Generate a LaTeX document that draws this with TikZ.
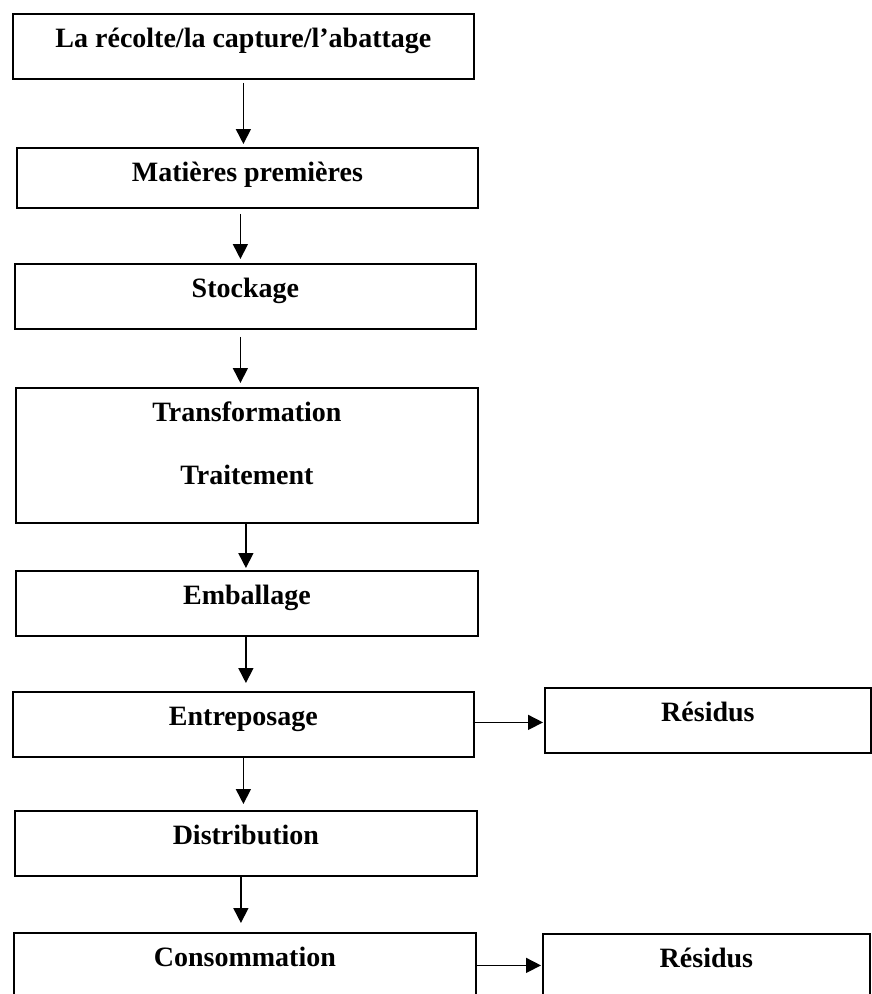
\documentclass[tikz,border=0pt]{standalone}
\usepackage{fontspec}
\setmainfont{Liberation Serif}
\usetikzlibrary{arrows.meta}
\begin{document}
\begin{tikzpicture}[x=1pt,y=-1pt,
    box/.style={draw, line width=1.8pt, rectangle, anchor=north west, inner xsep=0pt, inner ysep=0pt,
        text height=34pt, text depth=31pt, font=\bfseries\fontsize{28}{34}\selectfont},
    flow/.style={line width=1.6pt, -{Triangle[length=15pt,width=15pt]}}]
\useasboundingbox (0,0) rectangle (871,994);
% main chain
\node[box, minimum width=461pt] (harvest) at (12,13) {La récolte/la capture/l’abattage};
\node[box, minimum width=461pt, text depth=26pt] (rawmat) at (16,147) {Matières premières};
\node[box, minimum width=461pt] (storage) at (14,263) {Stockage};
\node[box, minimum width=462pt, text depth=101pt] (process) at (15,387)
    {\begin{tabular}[t]{@{}c@{}}Transformation\\[28.6pt]Traitement\end{tabular}};
\node[box, minimum width=462pt] (packing) at (15,570) {Emballage};
\node[box, minimum width=461pt] (warehouse) at (12,691) {Entreposage};
\node[box, minimum width=462pt] (distrib) at (14,810) {Distribution};
\node[box, minimum width=462pt] (consume) at (13,932) {Consommation};
% side boxes
\node[box, minimum width=326pt] (wasteA) at (544,687) {Résidus};
\node[box, minimum width=327pt] (wasteB) at (542,933) {Résidus};
% arrows
\draw[flow, shorten <=3pt, shorten >=3pt] (harvest.south) -- (harvest.south |- rawmat.north);
\draw[flow, shorten <=5pt, shorten >=4pt] ([xshift=-7pt]rawmat.south) -- ([xshift=-7pt]rawmat.south |- storage.north);
\draw[flow, shorten <=7pt, shorten >=4pt] ([xshift=-5pt]storage.south) -- ([xshift=-5pt]storage.south |- process.north);
\draw[flow, shorten >=2pt] ([xshift=-1pt]process.south) -- ([xshift=-1pt]process.south |- packing.north);
\draw[flow, shorten >=8pt] ([xshift=-1pt]packing.south) -- ([xshift=-1pt]packing.south |- warehouse.north);
\draw[flow, shorten >=6pt] (warehouse.south) -- (warehouse.south |- distrib.north);
\draw[flow, shorten >=9pt] ([xshift=-5pt]distrib.south) -- ([xshift=-5pt]distrib.south |- consume.north);
\draw[flow, shorten <=-2pt, shorten >=1pt] ([yshift=2pt]warehouse.east) -- ([yshift=2pt]warehouse.east -| wasteA.west);
\draw[flow, shorten >=1pt] (consume.east) -- (consume.east -| wasteB.west);
\end{tikzpicture}
\end{document}
